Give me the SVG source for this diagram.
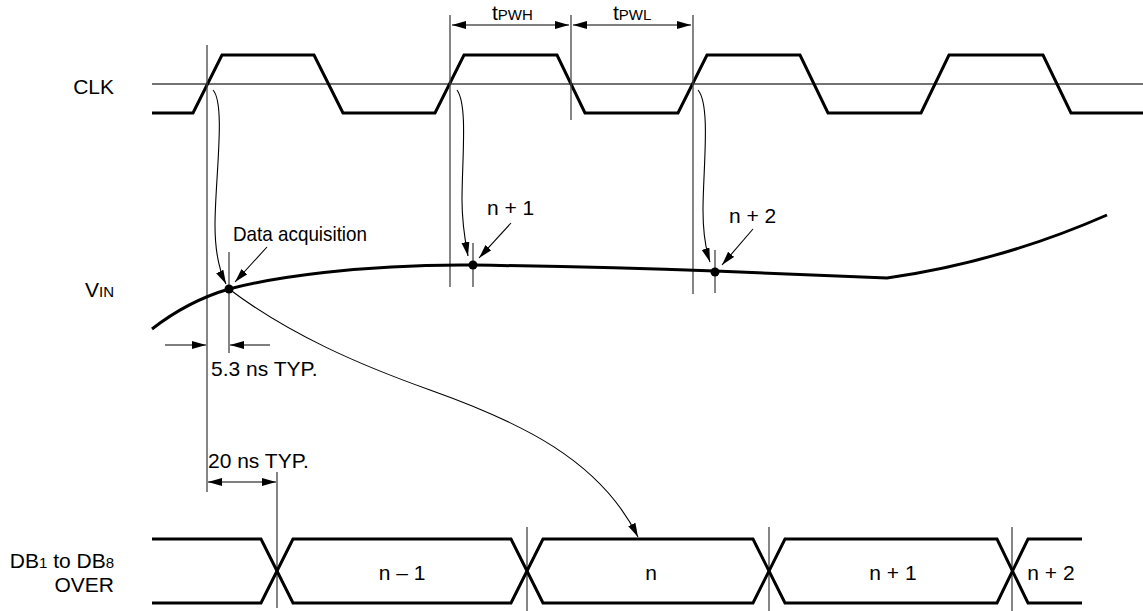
<svg xmlns="http://www.w3.org/2000/svg" width="1143" height="611" viewBox="0 0 1143 611">
<style>
.wave{fill:none;stroke:#000;stroke-width:3;stroke-linejoin:miter}
.thin{fill:none;stroke:#444;stroke-width:1.3}
.conn{fill:none;stroke:#000;stroke-width:1.1}
.lbl{font-family:"Liberation Sans",Arial,sans-serif;font-size:21px;fill:#000}
.sm{font-size:15px}
</style>
<defs>
<marker id="ah" markerUnits="userSpaceOnUse" markerWidth="15" markerHeight="9" refX="14" refY="4" orient="auto-start-reverse">
<path d="M0,0 L14,4 L0,8 z" fill="#000"/>
</marker>
</defs>
<rect width="1143" height="611" fill="#fff"/>

<g id="clk">
<line class="thin" x1="152" y1="84" x2="1143" y2="84"/>
<polyline class="wave" points="152,113 193,113 222,55 314,55 343,113 435,113 464,55 557,55 585,113 678,113 707,55 800,55 828,113 921,113 949,55 1043,55 1071,113 1143,113"/>
<text class="lbl" x="114" y="94" text-anchor="end" font-size="22">CLK</text>
</g>

<g id="guides">
<line class="thin" x1="207" y1="45" x2="207" y2="492"/>
<line class="thin" x1="450" y1="15" x2="450" y2="287"/>
<line class="thin" x1="571" y1="15" x2="571" y2="120"/>
<line class="thin" x1="693" y1="15" x2="693" y2="294"/>
<line class="thin" x1="229" y1="252" x2="229" y2="353"/>
<line class="thin" x1="473" y1="243" x2="473" y2="287"/>
<line class="thin" x1="715" y1="250" x2="715" y2="293"/>
<line class="thin" x1="277" y1="472" x2="277" y2="608"/>
<line class="thin" x1="527" y1="527" x2="527" y2="611"/>
<line class="thin" x1="769" y1="527" x2="769" y2="611"/>
<line class="thin" x1="1012" y1="527" x2="1012" y2="611"/>
</g>

<g id="vin">
<path class="wave" d="M152,329 C170,315 195,299 229,289 C270,278 360,264 473,265 Q600,267 715,271 L887,278 Q1000,262 1107,215"/>
<circle cx="229" cy="289" r="4.5" fill="#000"/>
<circle cx="473" cy="265" r="4.5" fill="#000"/>
<circle cx="715" cy="272" r="4.5" fill="#000"/>
<text class="lbl" x="114" y="297" text-anchor="end" font-size="22">V<tspan class="sm">IN</tspan></text>
</g>

<g id="db">
<path class="wave" d="M152,539 L261,539 L293,603 L511,603 L543,539 L753,539 L785,603 L997,603 L1028,539 L1082,539"/>
<path class="wave" d="M152,603 L261,603 L293,539 L511,539 L543,603 L753,603 L785,539 L997,539 L1028,603 L1082,603"/>
<text class="lbl" x="114" y="568" text-anchor="end" font-size="22">DB<tspan class="sm">1</tspan> to DB<tspan class="sm">8</tspan></text>
<text class="lbl" x="114" y="592" text-anchor="end" font-size="22">OVER</text>
<text class="lbl" x="402" y="580" text-anchor="middle">n – 1</text>
<text class="lbl" x="651" y="580" text-anchor="middle">n</text>
<text class="lbl" x="893" y="580" text-anchor="middle">n + 1</text>
<text class="lbl" x="1051" y="580" text-anchor="middle">n + 2</text>
</g>

<g id="labels">
<text class="lbl" x="492" y="20" font-size="22">t<tspan class="sm">PWH</tspan></text>
<text class="lbl" x="613" y="20" font-size="22">t<tspan class="sm">PWL</tspan></text>
<text class="lbl" x="233" y="241" font-size="20" textLength="134" lengthAdjust="spacingAndGlyphs">Data acquisition</text>
<text class="lbl" x="487" y="215">n + 1</text>
<text class="lbl" x="729" y="223">n + 2</text>
<text class="lbl" x="211" y="376" font-size="22">5.3 ns TYP.</text>
<text class="lbl" x="208" y="468" font-size="22">20 ns TYP.</text>
</g>

<g id="connectors">
<line class="conn" x1="452" y1="25" x2="569" y2="25" marker-start="url(#ah)" marker-end="url(#ah)"/>
<line class="conn" x1="573" y1="25" x2="691" y2="25" marker-start="url(#ah)" marker-end="url(#ah)"/>
<line class="conn" x1="165" y1="345" x2="206" y2="345" marker-end="url(#ah)"/>
<line class="conn" x1="270" y1="345" x2="230" y2="345" marker-end="url(#ah)"/>
<line class="conn" x1="208" y1="482" x2="276" y2="482" marker-start="url(#ah)" marker-end="url(#ah)"/>
<path class="conn" d="M213,90 C226,104 215,180 215,225 C215,252 219,270 226,284" marker-end="url(#ah)"/>
<path class="conn" d="M457,90 C468,105 462,160 462,200 C462,225 465,240 468,256" marker-end="url(#ah)"/>
<path class="conn" d="M698,90 C711,105 703,170 703,210 C703,235 706,250 710,262" marker-end="url(#ah)"/>
<line class="conn" x1="267" y1="247" x2="235" y2="282" marker-end="url(#ah)"/>
<line class="conn" x1="511" y1="223" x2="479" y2="258" marker-end="url(#ah)"/>
<line class="conn" x1="753" y1="229" x2="722" y2="265" marker-end="url(#ah)"/>
<path class="conn" d="M229,289 C290,335 360,365 430,390 C520,422 600,460 638,537" marker-end="url(#ah)"/>
</g>
</svg>
